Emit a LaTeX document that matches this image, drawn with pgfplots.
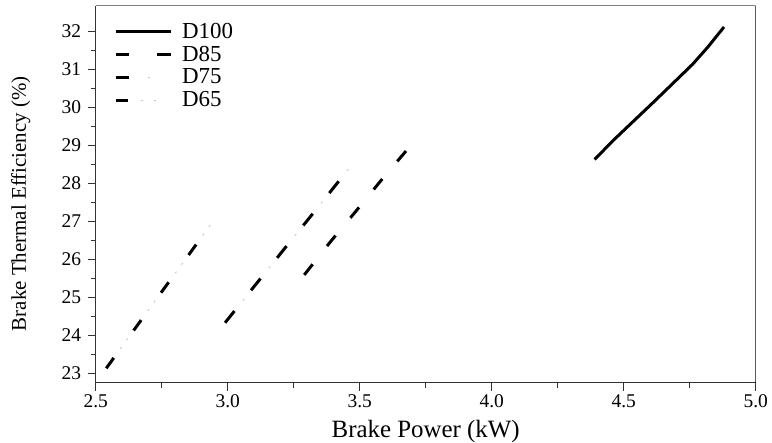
\documentclass[border=0pt]{standalone}
\usepackage{pgfplots}
\pgfplotsset{compat=1.18}
\usepackage{fontspec}
\setmainfont{Liberation Serif}

\begin{document}
\begin{tikzpicture}
\begin{axis}[
    name=ax,
    scale only axis, width=660bp, height=377bp,
    xmin=2.5, xmax=5.0, ymin=22.75, ymax=32.68,
    axis lines=left,
    axis line style={-, line width=1.4bp, black!80},
    xtick={2.5,3,3.5,4,4.5,5}, ytick={23,24,...,32},
    minor x tick num=1, minor y tick num=1,
    tick align=outside, major tick length=8bp, minor tick length=5bp,
    every tick/.style={line width=1.3bp, black!80},
    /pgf/number format/assume math mode=true,
    tick label style={font=\fontsize{19.5}{22}\selectfont, inner sep=0pt},
    xticklabel style={/pgf/number format/fixed, /pgf/number format/fixed zerofill, /pgf/number format/precision=1},
    xticklabel shift=4bp, yticklabel shift=6.5bp,
    xlabel={Brake Power (kW)},
    ylabel={Brake Thermal Efficiency (\%)},
    xlabel style={at={(axis description cs:0.5,-0.1459)}, anchor=base, font=\fontsize{25}{28}\selectfont, inner sep=0pt},
    ylabel style={at={(axis description cs:-0.1056,0.4748)}, anchor=base, rotate=0, font=\fontsize{21}{24}\selectfont, inner sep=0pt},
    legend cell align=left,
    legend style={draw=none, fill=none, at={(rel axis cs:0,1)}, anchor=north west,
        xshift=18.3bp, yshift=-16bp, inner sep=0pt, row sep=3.3bp,
        font=\fontsize{23}{26}\selectfont,
        nodes={inner sep=0pt, text height=16.5bp, text depth=3bp}},
]
% D100
\addplot[black, line width=3bp,
    legend image code/.code={\draw[black, line width=3bp] (0bp,0bp) -- (55bp,0bp); \path (65bp,0bp);}]
    coordinates {(4.39,28.63) (4.46,29.13) (4.61,30.12) (4.76,31.13) (4.82,31.60) (4.88,32.12)};
\addlegendentry{D100}
% D85
\addplot[black, line width=3bp, dash pattern=on 13.5bp off 23.2bp,
    legend image code/.code={\draw[black, line width=3bp] (0bp,0bp) -- (13.3bp,0bp) (41.5bp,0bp) -- (55bp,0bp); \path (65bp,0bp);}]
    coordinates {(3.29,25.59) (3.39,26.47) (3.48,27.22) (3.58,28.07) (3.68,28.89)};
\addlegendentry{D85}
% D75
\addplot[black, line width=3bp, dash pattern=on 15bp off 26.6bp,
    legend image code/.code={\draw[black, line width=3bp] (0bp,0bp) -- (13.3bp,0bp); \draw[gray!45, line width=1bp] (32bp,0bp) -- (34bp,0bp); \path (65bp,0bp);}]
    coordinates {(2.99,24.33) (3.11,25.37) (3.23,26.41) (3.35,27.44) (3.46,28.40)};
\addlegendentry{D75}
\addplot[gray!45, line width=1bp, dash pattern=on 2bp off 39.6bp, dash phase=13.1bp, forget plot]
    coordinates {(2.99,24.33) (3.11,25.37) (3.23,26.41) (3.35,27.44) (3.46,28.40)};
% D65
\addplot[black, line width=3bp, dash pattern=on 12.8bp off 33.9bp,
    legend image code/.code={\draw[black, line width=3bp] (0bp,0bp) -- (13.3bp,0bp); \draw[gray!45, line width=1bp] (25bp,0bp) -- (27bp,0bp) (38bp,0bp) -- (40bp,0bp); \path (65bp,0bp);}]
    coordinates {(2.54,23.13) (2.64,24.09) (2.74,25.05) (2.84,26.00) (2.94,26.96)};
\addlegendentry{D65}
\addplot[gray!45, line width=1bp, dash pattern=on 2bp off 8.6bp on 2bp off 34.1bp, dash phase=22.6bp, forget plot]
    coordinates {(2.54,23.13) (2.64,24.09) (2.74,25.05) (2.84,26.00) (2.94,26.96)};
% box top and right
\draw[line width=1.4bp, gray] (rel axis cs:0,1) -- (rel axis cs:1,1);
\draw[line width=1.2bp, black] (rel axis cs:1,0) -- (rel axis cs:1,1);
\end{axis}
\pgfresetboundingbox
\path[use as bounding box] ([shift={(-95.7bp,-59.3bp)}]ax.south west) rectangle ([shift={(16.3bp,5.7bp)}]ax.north east);
\end{tikzpicture}
\end{document}
